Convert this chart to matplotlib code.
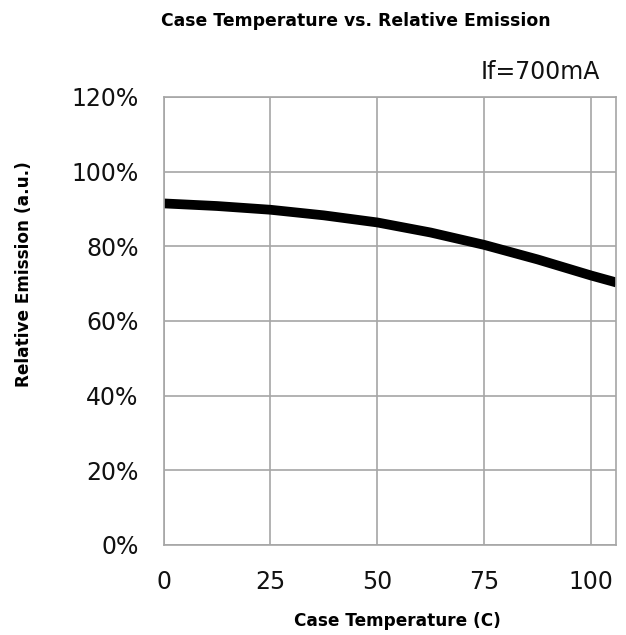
import matplotlib
matplotlib.use("Agg")
import matplotlib.pyplot as plt
from matplotlib.ticker import FuncFormatter

# Data
temperature = [0, 12.5, 25, 37.5, 50, 62.5, 75, 87.5, 100, 106]
emission = [91.5, 90.8, 89.8, 88.3, 86.4, 83.7, 80.4, 76.5, 72.2, 70.3]
x_ticks = [0, 25, 50, 75, 100]
y_ticks = [0, 20, 40, 60, 80, 100, 120]

W, H = 626, 635
fig = plt.figure(figsize=(W / 100, H / 100), dpi=100)
L, R, T, B = 163.5, 615.7, 97, 545
ax = fig.add_axes([L / W, 1 - B / H, (R - L) / W, (B - T) / H])

ax.plot(temperature, emission, color="black", linewidth=7, solid_capstyle="butt")
ax.set_xlim(0, 105.8)
ax.set_ylim(0, 120)
ax.set_xticks(x_ticks)
ax.set_yticks(y_ticks)
ax.yaxis.set_major_formatter(FuncFormatter(lambda v, p: f"{int(v)}%"))
ax.grid(True, color="#a6a6a6", linewidth=1.2)
ax.set_axisbelow(True)
for s in ax.spines.values():
    s.set_color("#a6a6a6")
    s.set_linewidth(1.2)
ax.tick_params(length=0, labelsize=17)
ax.tick_params(axis="y", pad=18)
ax.tick_params(axis="x", pad=18)
for lab in ax.get_xticklabels() + ax.get_yticklabels():
    lab.set_family("DejaVu Sans")
    lab.set_color("#111111")

fig.text(356 / W, 1 - 21 / H, "Case Temperature vs. Relative Emission",
         ha="center", va="center", fontsize=12.4, fontweight="bold", family="DejaVu Sans")
fig.text(397 / W, 1 - 621 / H, "Case Temperature (C)",
         ha="center", va="center", fontsize=12.2, fontweight="bold", family="DejaVu Sans")
fig.text(24 / W, 1 - 274 / H, "Relative Emission (a.u.)", rotation=90,
         ha="center", va="center", fontsize=12.2, fontweight="bold", family="DejaVu Sans")
fig.text(600 / W, 1 - 72 / H, "If=700mA", ha="right", va="center",
         fontsize=17, family="DejaVu Sans", color="#111111")

fig.savefig("out.png", dpi=100)
